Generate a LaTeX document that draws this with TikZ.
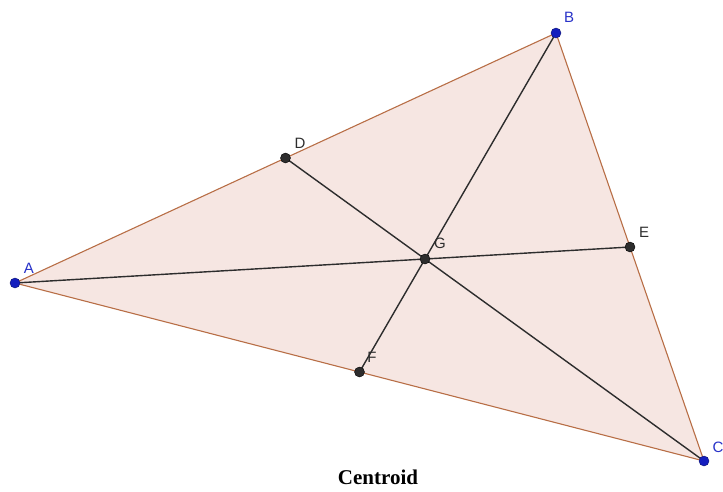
\documentclass[tikz,border=0pt]{standalone}
\usepackage{fontspec}
\setmainfont{Liberation Serif}
\newfontfamily\lblfont{Liberation Sans}
\definecolor{triFill}{RGB}{246,230,226}
\definecolor{triEdge}{RGB}{184,110,70}
\definecolor{ptBlue}{RGB}{20,30,190}
\definecolor{lblBlue}{RGB}{40,50,200}
\definecolor{segGrey}{RGB}{45,45,45}
\tikzset{
  bluept/.style={circle,fill=ptBlue,draw=ptBlue!60!black,line width=0.4pt,inner sep=0pt,minimum size=10pt},
  greypt/.style={circle,fill=segGrey,draw=black,line width=0.4pt,inner sep=0pt,minimum size=10pt},
  bluelbl/.style={font=\lblfont\fontsize{15}{16}\selectfont,text=lblBlue,inner sep=0pt},
  greylbl/.style={font=\lblfont\fontsize{15}{16}\selectfont,text=segGrey,inner sep=0pt},
  edge/.style={draw=triEdge,line width=1.1pt},
  median/.style={draw=segGrey,line width=1.4pt}
}
\begin{document}
\begin{tikzpicture}[x=1pt,y=-1pt]
\useasboundingbox (0,0) rectangle (723,491);
\coordinate (A) at (15,283);
\coordinate (B) at (556,33);
\coordinate (C) at (704,461);
\coordinate (D) at (285.5,158);
\coordinate (E) at (630,247);
\coordinate (F) at (359.5,372);
\coordinate (G) at (425,259);
\fill[triFill] (A) -- (B) -- (C) -- cycle;
\draw[median] (A) -- (E);
\draw[median] (B) -- (F);
\draw[median] (C) -- (D);
\draw[edge] (A) -- (B) -- (C) -- cycle;
\node[greypt] (pD) at (D) {};
\node[greypt] (pE) at (E) {};
\node[greypt] (pF) at (F) {};
\node[greypt] (pG) at (G) {};
\node[bluept] (pA) at (A) {};
\node[bluept] (pB) at (B) {};
\node[bluept] (pC) at (C) {};
\node[bluelbl] (lA) at (29,268) {A};
\node[bluelbl] (lB) at (569,17) {B};
\node[bluelbl] (lC) at (718,447) {C};
\node[greylbl] (lD) at (300,143) {D};
\node[greylbl] (lE) at (644,232) {E};
\node[greylbl] (lF) at (372,357) {F};
\node[greylbl] (lG) at (440,243) {G};
\node[font=\bfseries\fontsize{21}{24}\selectfont,inner sep=0pt] (title) at (378,477) {Centroid};
\end{tikzpicture}
\end{document}
